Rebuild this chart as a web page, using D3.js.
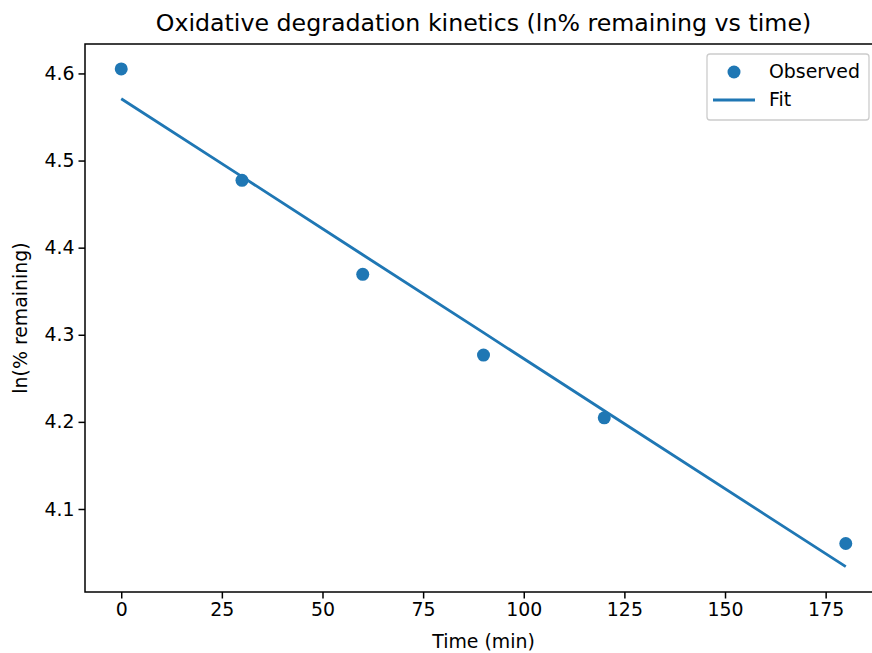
<!DOCTYPE html>
<html>
<head>
<meta charset="utf-8">
<script src="https://cdn.jsdelivr.net/npm/d3@7"></script>
<style>
  body { margin: 0; background: #fff; }
  svg { font-family: "DejaVu Sans", sans-serif; }
</style>
</head>
<body>
<div id="chart"></div>
<script>
// data
const times = [0, 30, 60, 90, 120, 180];
const observed = [4.6052, 4.4773, 4.3694, 4.2767, 4.2047, 4.0604];
const fitted = [4.5710, 4.4815, 4.3919, 4.3024, 4.2128, 4.0338];
const xTicks = [0, 25, 50, 75, 100, 125, 150, 175];
const yTicks = [4.1, 4.2, 4.3, 4.4, 4.5, 4.6];

const width = 872, height = 653;
const blue = "#1f77b4";
const labelSize = 18.9;

// axes box (right side runs past the picture edge, as in the reference)
const plotLeft = 85, plotTop = 44, plotRight = 882, plotBottom = 592;

const svg = d3.select("#chart").append("svg")
    .attr("width", width)
    .attr("height", height);

const x = d3.scaleLinear().domain([-9, 189]).range([plotLeft, plotRight]);
const y = d3.scaleLinear().domain([4.0047, 4.6338]).range([plotBottom, plotTop]);

// x axis
const xAxis = svg.append("g")
    .attr("transform", `translate(0,${plotBottom})`)
    .call(d3.axisBottom(x).tickValues(xTicks).tickSize(6.5).tickPadding(4).tickFormat(d3.format("d")));
xAxis.select(".domain").remove();
xAxis.selectAll("text").attr("font-size", labelSize).attr("fill", "#000").attr("font-family", "DejaVu Sans");
xAxis.selectAll("line").attr("stroke", "#000").attr("stroke-width", 1.5);

// y axis
const yAxis = svg.append("g")
    .attr("transform", `translate(${plotLeft},0)`)
    .call(d3.axisLeft(y).tickValues(yTicks).tickSize(6.5).tickPadding(4).tickFormat(d3.format(".1f")));
yAxis.select(".domain").remove();
yAxis.selectAll("text").attr("font-size", labelSize).attr("fill", "#000").attr("font-family", "DejaVu Sans");
yAxis.selectAll("line").attr("stroke", "#000").attr("stroke-width", 1.5);

// fit line
const line = d3.line().x((d, i) => x(times[i])).y(d => y(d));
svg.append("path")
    .datum(fitted)
    .attr("d", line)
    .attr("fill", "none")
    .attr("stroke", blue)
    .attr("stroke-width", 2.8);

// observed points
svg.selectAll("circle.obs")
    .data(observed)
    .enter()
    .append("circle")
    .attr("class", "obs")
    .attr("cx", (d, i) => x(times[i]))
    .attr("cy", d => y(d))
    .attr("r", 6.5)
    .attr("fill", blue);

// frame
svg.append("rect")
    .attr("x", plotLeft)
    .attr("y", plotTop)
    .attr("width", plotRight - plotLeft)
    .attr("height", plotBottom - plotTop)
    .attr("fill", "none")
    .attr("stroke", "#000")
    .attr("stroke-width", 1.5);

// title and labels
svg.append("text")
    .attr("x", (plotLeft + plotRight) / 2)
    .attr("y", 31)
    .attr("text-anchor", "middle")
    .attr("font-size", 23.7)
    .text("Oxidative degradation kinetics (ln% remaining vs time)");

svg.append("text")
    .attr("x", (plotLeft + plotRight) / 2)
    .attr("y", 648)
    .attr("text-anchor", "middle")
    .attr("font-size", labelSize)
    .text("Time (min)");

svg.append("text")
    .attr("transform", `translate(27,${(plotTop + plotBottom) / 2}) rotate(-90)`)
    .attr("text-anchor", "middle")
    .attr("font-size", labelSize)
    .text("ln(% remaining)");

// legend
const legend = svg.append("g");
legend.append("rect")
    .attr("x", 707)
    .attr("y", 54)
    .attr("width", 162)
    .attr("height", 66)
    .attr("rx", 3)
    .attr("fill", "#fff")
    .attr("fill-opacity", 0.8)
    .attr("stroke", "#ccc")
    .attr("stroke-width", 1.3);
legend.append("circle")
    .attr("cx", 734)
    .attr("cy", 72)
    .attr("r", 6.5)
    .attr("fill", blue);
legend.append("line")
    .attr("x1", 713).attr("x2", 755)
    .attr("y1", 100).attr("y2", 100)
    .attr("stroke", blue)
    .attr("stroke-width", 2.8);
legend.append("text")
    .attr("x", 769).attr("y", 78)
    .attr("font-size", labelSize)
    .text("Observed");
legend.append("text")
    .attr("x", 769).attr("y", 106)
    .attr("font-size", labelSize)
    .text("Fit");
</script>
</body>
</html>
